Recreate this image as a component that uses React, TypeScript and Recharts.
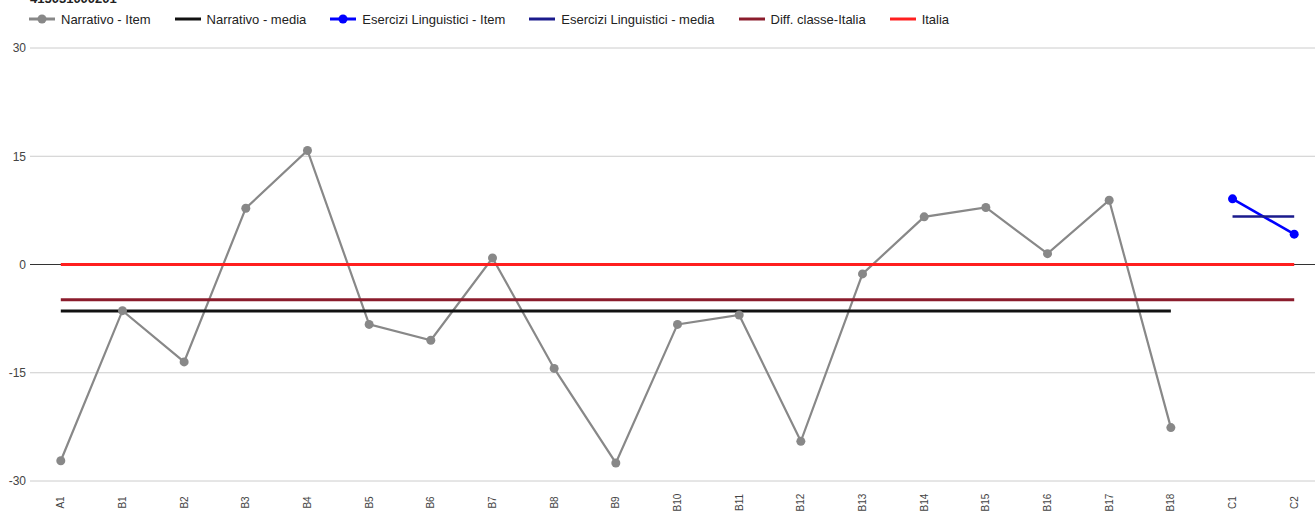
import React from "react";
import { LineChart, Line, XAxis, YAxis, CartesianGrid } from "recharts";

const categories = [
  "A1", "B1", "B2", "B3", "B4", "B5", "B6", "B7", "B8", "B9", "B10",
  "B11", "B12", "B13", "B14", "B15", "B16", "B17", "B18", "C1", "C2",
];

const narrativoItem = [
  -27.2, -6.4, -13.5, 7.8, 15.8, -8.3, -10.5, 0.9, -14.4, -27.5, -8.3,
  -7.0, -24.5, -1.3, 6.6, 7.9, 1.5, 8.9, -22.6, null, null,
];

const narrativoMedia = [
  -6.45, -6.45, -6.45, -6.45, -6.45, -6.45, -6.45, -6.45, -6.45, -6.45, -6.45,
  -6.45, -6.45, -6.45, -6.45, -6.45, -6.45, -6.45, -6.45, null, null,
];

const eserciziItem = [
  null, null, null, null, null, null, null, null, null, null, null,
  null, null, null, null, null, null, null, null, 9.1, 4.2,
];

const eserciziMedia = [
  null, null, null, null, null, null, null, null, null, null, null,
  null, null, null, null, null, null, null, null, 6.65, 6.65,
];

const diffClasseItalia = [
  -4.9, -4.9, -4.9, -4.9, -4.9, -4.9, -4.9, -4.9, -4.9, -4.9, -4.9,
  -4.9, -4.9, -4.9, -4.9, -4.9, -4.9, -4.9, -4.9, -4.9, -4.9,
];

const italia = [
  0, 0, 0, 0, 0, 0, 0, 0, 0, 0, 0,
  0, 0, 0, 0, 0, 0, 0, 0, 0, 0,
];

const yTicks = [-30, -15, 0, 15, 30];
const title = "415031000201";

const data = categories.map((name, i) => ({
  name,
  narrativoItem: narrativoItem[i],
  narrativoMedia: narrativoMedia[i],
  eserciziItem: eserciziItem[i],
  eserciziMedia: eserciziMedia[i],
  diff: diffClasseItalia[i],
  italia: italia[i],
}));

const FONT = "Arial, 'Liberation Sans', sans-serif";

const legendItems = [
  { label: "Narrativo - Item", color: "#888888", dot: true },
  { label: "Narrativo - media", color: "#111111", dot: false },
  { label: "Esercizi Linguistici - Item", color: "#0000ff", dot: true },
  { label: "Esercizi Linguistici - media", color: "#1a1a8c", dot: false },
  { label: "Diff. classe-Italia", color: "#8b1c2c", dot: false },
  { label: "Italia", color: "#ff1f1f", dot: false },
];

function XTick({ x, payload }: any) {
  return (
    <text
      x={0}
      y={0}
      transform={`translate(${x + 3.5},502.5) rotate(-90)`}
      textAnchor="middle"
      fontSize={10}
      fontFamily={FONT}
      fill="#444"
    >
      {payload.value}
    </text>
  );
}

function GridLine(props: any) {
  const { x1, y1, x2, y2, index } = props;
  return (
    <line
      x1={x1}
      y1={y1}
      x2={x2}
      y2={y2}
      stroke={index === 2 ? "#333" : "#cccccc"}
      strokeWidth={1}
    />
  );
}

export default function App() {
  return (
    <div
      style={{
        position: "absolute",
        left: 0,
        top: 0,
        width: 1315,
        height: 514,
        overflow: "hidden",
        background: "#fff",
        fontFamily: FONT,
      }}
    >
      <div
        style={{
          position: "absolute",
          left: 30,
          top: -9,
          fontSize: 13,
          fontWeight: "bold",
          color: "#222",
          lineHeight: "15px",
        }}
      >
        {title}
      </div>
      <div
        style={{
          position: "absolute",
          left: 29,
          top: 11,
          display: "flex",
          alignItems: "center",
          fontSize: 13,
          color: "#222",
          whiteSpace: "nowrap",
        }}
      >
        {legendItems.map((it) => (
          <div
            key={it.label}
            style={{ display: "flex", alignItems: "center", marginRight: 24 }}
          >
            <svg width={26} height={16} style={{ marginRight: 6 }}>
              <line x1={0} y1={8} x2={26} y2={8} stroke={it.color} strokeWidth={3} />
              {it.dot && <circle cx={13} cy={8} r={4.5} fill={it.color} />}
            </svg>
            <span>{it.label}</span>
          </div>
        ))}
      </div>
      <LineChart
        width={1325}
        height={514}
        data={data}
        margin={{ top: 48, right: 0, bottom: 0, left: 0 }}
      >
        <CartesianGrid vertical={false} horizontal={GridLine} />
        <XAxis
          dataKey="name"
          height={33}
          axisLine={false}
          tickLine={false}
          tickSize={0}
          tickMargin={0}
          interval={0}
          padding={{ left: 30.8, right: 30.8 }}
          tick={<XTick />}
        />
        <YAxis
          width={30}
          domain={[-30, 30]}
          ticks={yTicks}
          axisLine={false}
          tickLine={false}
          tickSize={0}
          tickMargin={4}
          tick={{ fontSize: 12, fill: "#444", fontFamily: FONT }}
        />
        <Line
          dataKey="narrativoItem"
          stroke="#888888"
          strokeWidth={2.2}
          dot={{ r: 4.5, fill: "#888888", stroke: "none" }}
          isAnimationActive={false}
        />
        <Line
          dataKey="narrativoMedia"
          stroke="#111111"
          strokeWidth={3}
          dot={false}
          isAnimationActive={false}
        />
        <Line
          dataKey="eserciziItem"
          stroke="#0000ff"
          strokeWidth={2.5}
          dot={{ r: 4.5, fill: "#0000ff", stroke: "none" }}
          isAnimationActive={false}
        />
        <Line
          dataKey="eserciziMedia"
          stroke="#1a1a8c"
          strokeWidth={2.5}
          dot={false}
          isAnimationActive={false}
        />
        <Line
          dataKey="diff"
          stroke="#8b1c2c"
          strokeWidth={3}
          dot={false}
          isAnimationActive={false}
        />
        <Line
          dataKey="italia"
          stroke="#ff1f1f"
          strokeWidth={3}
          dot={false}
          isAnimationActive={false}
        />
      </LineChart>
    </div>
  );
}
